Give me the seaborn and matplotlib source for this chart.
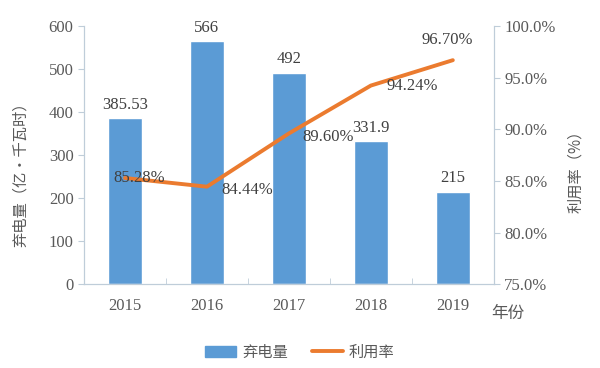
import matplotlib.pyplot as plt
import seaborn as sns
import pandas as pd
from matplotlib.ticker import FixedLocator, PercentFormatter
from matplotlib.patches import Patch
from matplotlib.lines import Line2D

years = ['2015', '2016', '2017', '2018', '2019']
curtailed = [385.53, 566, 492, 331.9, 215]
usage_rate = [85.28, 84.44, 89.60, 94.24, 96.70]
bar_labels = ['385.53', '566', '492', '331.9', '215']
rate_labels = ['85.28%', '84.44%', '89.60%', '94.24%', '96.70%']

df = pd.DataFrame({'year': years, 'curtailed': curtailed, 'rate': usage_rate})

sns.set_style('white')
plt.rcParams['font.family'] = ['Liberation Serif', 'Noto Sans CJK SC', 'DejaVu Sans']
cjk = ['Noto Sans CJK SC', 'DejaVu Sans']

bar_color = '#5B9BD5'
line_color = '#EB7B2F'
text_color = '#595959'
spine_color = '#BFCDD9'

fig = plt.figure(figsize=(6, 3.68), dpi=100)
ax = fig.add_axes([0.14, 0.228, 0.683, 0.701])

sns.barplot(data=df, x='year', y='curtailed', color=bar_color, width=0.42,
            saturation=1, ax=ax)
ax.set_ylim(0, 600)
ax.set_xlim(-0.5, 4.5)
ax.set_yticks(range(0, 601, 100))
ax.set_xlabel('')
ax.set_ylabel('弃电量（亿·千瓦时）', family=cjk, fontsize=11, color=text_color)
ax.yaxis.set_label_coords(-0.135, 0.44)
ax.xaxis.set_minor_locator(FixedLocator([0.5, 1.5, 2.5, 3.5]))
ax.tick_params(axis='x', which='major', length=0, labelsize=12, colors=text_color, pad=10)
ax.tick_params(axis='x', which='minor', direction='in', length=4, color=spine_color, bottom=True)
ax.tick_params(axis='y', length=4, color=spine_color, labelsize=12, labelcolor=text_color, left=True)

for i, v in enumerate(curtailed):
    ax.text(i, v + 12, bar_labels[i], ha='center', va='bottom', fontsize=12, color='#404040')

ax.spines['top'].set_visible(False)
for s in ['left', 'bottom', 'right']:
    ax.spines[s].set_color(spine_color)

ax2 = ax.twinx()
sns.lineplot(x=list(range(len(years))), y=usage_rate, color=line_color, linewidth=2.8, ax=ax2)
ax2.set_ylim(75, 100)
ax2.set_yticks([75, 80, 85, 90, 95, 100])
ax2.yaxis.set_major_formatter(PercentFormatter(decimals=1))
ax2.tick_params(axis='y', length=4, color=spine_color, labelsize=12, labelcolor=text_color, right=True)
ax2.set_ylabel('利用率（%）', family=cjk, fontsize=11, color=text_color)
ax2.yaxis.set_label_coords(1.18, 0.45)
ax2.spines['top'].set_visible(False)
for s in ['left', 'bottom', 'right']:
    ax2.spines[s].set_color(spine_color)

offsets = [(0.17, 0, 'center', 'center'), (0.18, -0.3, 'left', 'center'),
           (0.16, -0.3, 'left', 'center'), (0.19, 0, 'left', 'center'),
           (-0.07, 1.2, 'center', 'bottom')]
for i, v in enumerate(usage_rate):
    dx, dy, ha, va = offsets[i]
    ax2.text(i + dx, v + dy, rate_labels[i], ha=ha, va=va, fontsize=12, color='#404040')

fig.text(0.818, 0.148, '年份', family=cjk, fontsize=12, color=text_color, ha='left', va='center')

handles = [Patch(color=bar_color), Line2D([], [], color=line_color, linewidth=2.8)]
fig.legend(handles, ['弃电量', '利用率'], loc='center', bbox_to_anchor=(0.5, 0.043),
           ncol=2, frameon=False, prop={'family': cjk, 'size': 11}, labelcolor=text_color,
           handlelength=2.0, handleheight=0.7, handletextpad=0.4, columnspacing=1.6)

fig.savefig('out.png', dpi=100)
